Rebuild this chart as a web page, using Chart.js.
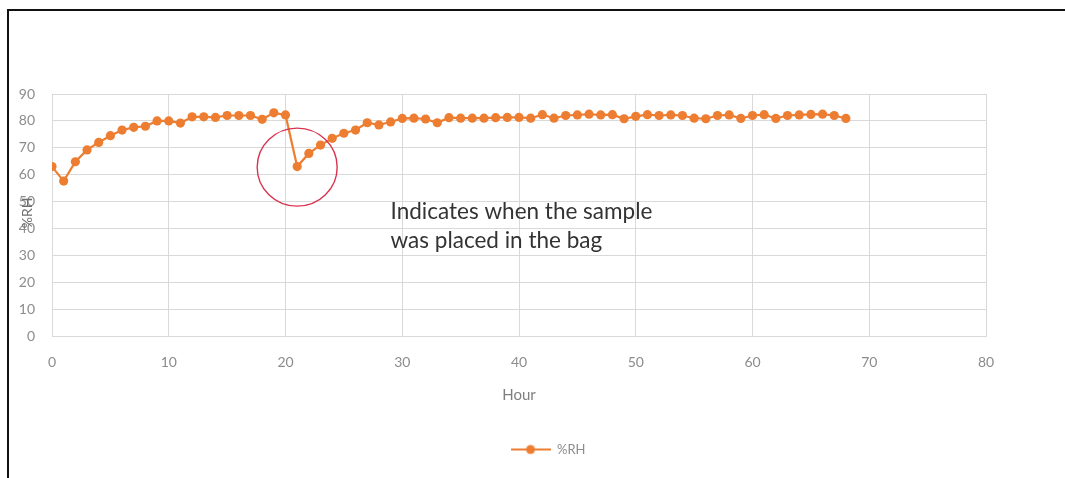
<!DOCTYPE html>
<html>
<head>
<meta charset="utf-8">
<title>%RH</title>
<script src="https://cdn.jsdelivr.net/npm/chart.js@4.4.1/dist/chart.umd.min.js"></script>
<style>
    html, body { margin: 0; padding: 0; background: #fff; overflow: hidden; }
    #wrap { position: relative; width: 1065px; height: 478px; overflow: hidden; }
    #frame {
        position: absolute; left: 7px; top: 9px; width: 1058px; height: 469px;
        border-top: 2px solid #111; border-left: 2px solid #111; pointer-events: none;
    }
</style>
</head>
<body>
<div id="wrap">
    <canvas id="rhChart" width="1065" height="478"></canvas>
    <div id="frame"></div>
</div>
<script>
// hours 0..68
const hours = [
    0, 1, 2, 3, 4, 5, 6, 7, 8, 9,
    10, 11, 12, 13, 14, 15, 16, 17, 18, 19,
    20, 21, 22, 23, 24, 25, 26, 27, 28, 29,
    30, 31, 32, 33, 34, 35, 36, 37, 38, 39,
    40, 41, 42, 43, 44, 45, 46, 47, 48, 49,
    50, 51, 52, 53, 54, 55, 56, 57, 58, 59,
    60, 61, 62, 63, 64, 65, 66, 67, 68
];
const rhValues = [
    63, 57.6, 64.8, 69.2, 72, 74.5, 76.6, 77.6, 78, 80,
    80, 79.2, 81.5, 81.5, 81.3, 82, 82, 82, 80.6, 83,
    82.2, 63, 67.9, 71, 73.5, 75.4, 76.6, 79.3, 78.5, 79.6,
    80.9, 81, 80.7, 79.3, 81.2, 81, 81, 81, 81.2, 81.3,
    81.3, 81, 82.3, 81, 82, 82.2, 82.5, 82.2, 82.3, 80.8,
    81.7, 82.3, 82, 82.2, 82, 81, 80.8, 82, 82.2, 80.9,
    82, 82.3, 80.9, 82, 82.2, 82.4, 82.5, 82, 80.9
];
const xTicks = [0, 10, 20, 30, 40, 50, 60, 70, 80];
const yTicks = [0, 10, 20, 30, 40, 50, 60, 70, 80, 90];

const seriesLabel = "%RH";
const xTitle = "Hour";
const noteLines = ["Indicates when the sample", "was placed in the bag"];

const orange = "#ed7d31";
const gridGrey = "#d9d9d9";
const tickGrey = "#8c8c8c";
const fontFamily = "Lato, 'Open Sans', sans-serif";

// legend symbol: line with a dot, like the office-style legend
function makeLegendSymbol() {
    const c = document.createElement("canvas");
    c.width = 40;
    c.height = 12;
    const g = c.getContext("2d");
    g.strokeStyle = orange;
    g.lineWidth = 2.2;
    g.beginPath();
    g.moveTo(0, 6);
    g.lineTo(40, 6);
    g.stroke();
    g.fillStyle = orange;
    g.beginPath();
    g.arc(20, 6, 4.5, 0, Math.PI * 2);
    g.fill();
    return c;
}

const annotationPlugin = {
    id: "bagNote",
    afterDatasetsDraw(chart) {
        const ctx = chart.ctx;
        const xs = chart.scales.x;
        const ys = chart.scales.y;

        // red circle around the drop at hour 21
        ctx.save();
        ctx.strokeStyle = "#d9344f";
        ctx.lineWidth = 1.4;
        ctx.beginPath();
        ctx.ellipse(xs.getPixelForValue(21), ys.getPixelForValue(62.8), 40, 39, 0, 0, Math.PI * 2);
        ctx.stroke();

        // note text
        ctx.fillStyle = "#333";
        ctx.font = "22.5px " + fontFamily;
        ctx.textBaseline = "alphabetic";
        const left = xs.getPixelForValue(29);
        ctx.fillText(noteLines[0], left, 219);
        ctx.fillText(noteLines[1], left, 248);

        // y axis title, squeezed over the tick labels as in the original
        ctx.translate(27, 213);
        ctx.rotate(-Math.PI / 2);
        ctx.fillStyle = "#6f6f6f";
        ctx.font = "14px " + fontFamily;
        ctx.textAlign = "center";
        ctx.textBaseline = "middle";
        ctx.fillText(seriesLabel, 0, 0);
        ctx.restore();
    }
};

const points = hours.map(function (h, i) {
    return { x: h, y: rhValues[i] };
});

new Chart(document.getElementById("rhChart"), {
    type: "line",
    data: {
        datasets: [{
            label: seriesLabel,
            data: points,
            borderColor: orange,
            backgroundColor: orange,
            borderWidth: 2.2,
            pointRadius: 4.6,
            pointBorderWidth: 0,
            pointBackgroundColor: orange,
            tension: 0
        }]
    },
    options: {
        responsive: false,
        animation: false,
        layout: {
            // uneven left/right padding keeps the legend a bit right of centre, as in the original
            padding: { left: 15, top: 94, right: -16, bottom: 12 }
        },
        plugins: {
            tooltip: { enabled: false },
            legend: {
                position: "bottom",
                labels: {
                    usePointStyle: true,
                    pointStyleWidth: 40,
                    color: tickGrey,
                    font: { family: fontFamily, size: 13 },
                    generateLabels: function (chart) {
                        return [{
                            text: seriesLabel,
                            pointStyle: makeLegendSymbol(),
                            fillStyle: orange,
                            strokeStyle: orange,
                            lineWidth: 0,
                            fontColor: tickGrey,
                            datasetIndex: 0
                        }];
                    }
                }
            }
        },
        scales: {
            x: {
                type: "linear",
                min: 0,
                max: 80,
                afterBuildTicks: function (scale) {
                    scale.ticks = xTicks.map(function (v) { return { value: v }; });
                },
                afterFit: function (scale) {
                    scale.height = 97;
                },
                grid: { color: gridGrey, drawTicks: false },
                border: { color: gridGrey },
                ticks: {
                    padding: 18,
                    color: tickGrey,
                    font: { family: fontFamily, size: 14 }
                },
                title: {
                    display: true,
                    text: xTitle,
                    color: "#7f7f7f",
                    font: { family: fontFamily, size: 15 },
                    padding: { top: 0, bottom: 29 }
                }
            },
            y: {
                min: 0,
                max: 90,
                afterBuildTicks: function (scale) {
                    scale.ticks = yTicks.map(function (v) { return { value: v }; });
                },
                afterFit: function (scale) {
                    scale.width = 37;
                },
                grid: { color: gridGrey, drawTicks: false },
                border: { color: gridGrey },
                ticks: {
                    padding: 17,
                    color: tickGrey,
                    font: { family: fontFamily, size: 14 }
                }
            },
            // empty right-hand axis, only reserves the white margin right of the plot
            yRight: {
                position: "right",
                display: true,
                afterFit: function (scale) {
                    scale.width = 95;
                },
                grid: { display: false },
                border: { display: false },
                ticks: { display: false }
            }
        }
    },
    plugins: [annotationPlugin]
});
</script>
</body>
</html>
